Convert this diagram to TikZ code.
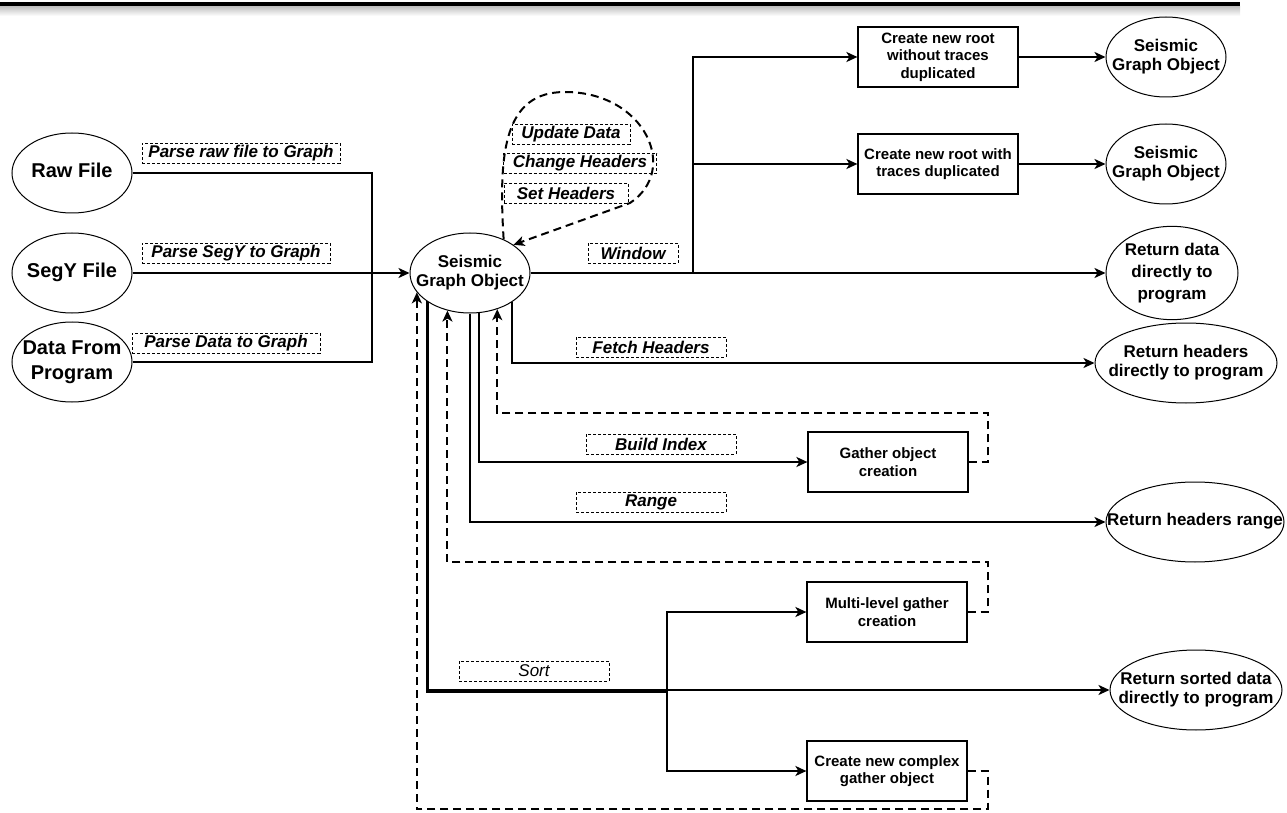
\documentclass[tikz,border=0pt]{standalone}
\usepackage{fontspec}
\setmainfont{Liberation Sans}
\usepackage{tikz}
\usetikzlibrary{arrows.meta, positioning, shapes.geometric}
\newcommand{\ovaltext}[1]{\makebox[0pt]{\begin{tabular}{@{}c@{}}#1\end{tabular}}}

\begin{document}
\begin{tikzpicture}[
  x=0.5pt, y=-0.5pt,
  every node/.style={align=center},
  oval/.style={draw, ellipse, inner sep=0pt, line width=0.5pt,
               minimum width=60pt, minimum height=40pt,
               font=\fontsize{8.5}{9.7}\selectfont\bfseries},
  srcoval/.style={oval, font=\fontsize{10}{12.5}\selectfont\bfseries},
  opbox/.style={draw, rectangle, line width=0.6pt, minimum width=80pt,
                minimum height=30pt, inner sep=1pt,
                font=\fontsize{7.5}{8.8}\selectfont\bfseries},
  optag/.style={draw, dash pattern=on 1.5pt off 1pt, line width=0.4pt,
                minimum height=10pt, inner sep=0pt,
                font=\fontsize{8.5}{10}\selectfont\bfseries\itshape},
  conn/.style={line width=1pt},
  arr/.style={conn, -{Stealth[length=5.5pt, width=5pt, inset=1.5pt]}},
  back/.style={arr, dash pattern=on 4pt off 2.5pt}
]
\useasboundingbox (0,0) rectangle (1287,813);

% page rule
\fill[black] (0,2) rectangle (1240,7);
\shade[top color=gray!45, bottom color=white] (0,7) rectangle (1240,16);

% Inputs
\node[srcoval] (raw) at (72,173) {\ovaltext{Raw File}};
\node[srcoval] (segy) at (72,273) {\ovaltext{SegY File}};
\node[srcoval] (dfp) at (72,362) {\ovaltext{Data From\\Program}};

% Core object
\node[oval] (seis) at (470,273) {\ovaltext{Seismic\\Graph Object}};

% Outputs
\node[opbox] (rootnew) at (938,57) {Create new root\\without traces\\duplicated};
\node[opbox] (rootdup) at (938,164) {Create new root with\\traces duplicated};
\node[oval] (sgoA) at (1166,57) {\ovaltext{Seismic\\Graph Object}};
\node[oval] (sgoB) at (1166,164) {\ovaltext{Seismic\\Graph Object}};
\node[oval, minimum width=66pt, font=\fontsize{8.5}{11}\selectfont\bfseries] (retdata) at (1172,273) {\ovaltext{Return data\\directly to\\program}};
\node[oval, minimum width=91pt] (rethdr) at (1186,363) {\ovaltext{Return headers\\directly to program}};
\node[opbox] (gather) at (888,462) {Gather object\\creation};
\node[oval, minimum width=89pt] (retrange) at (1195,522) {\ovaltext{Return headers range}};
\node[opbox] (multigather) at (887,612) {Multi-level gather\\creation};
\node[oval, minimum width=86pt] (retsort) at (1196,690) {\ovaltext{Return sorted data\\directly to program}};
\node[opbox] (complexgather) at (887,771) {Create new complex\\gather object};

% Operation tags
\node[optag, minimum width=99pt] (prsraw) at (241,153) {Parse raw file to Graph};
\node[optag, minimum width=94pt] (prssegy) at (236,253) {Parse SegY to Graph};
\node[optag, minimum width=94pt] (prsdata) at (226,343) {Parse Data to Graph};
\node[optag, minimum width=59pt] (upd) at (571,134) {Update Data};
\node[optag, minimum width=76.5pt] (chg) at (580,163) {Change Headers};
\node[optag, minimum width=62pt] (seth) at (566,193) {Set Headers};
\node[optag, minimum width=45pt] (win) at (633,253) {Window};
\node[optag, minimum width=75pt] (fetch) at (651,347) {Fetch Headers};
\node[optag, minimum width=75pt] (bidx) at (661,444) {Build Index};
\node[optag, minimum width=75pt] (rng) at (651,502) {Range};
\node[optag, minimum width=75pt, font=\fontsize{8.5}{10}\selectfont\itshape] (srt) at (534,671) {Sort};

% Junctions
\coordinate (merge) at (372,273);
\coordinate (winj) at (693,273);
\coordinate (sortj) at (667,691.5);

% Edges: inputs -> core
\draw[conn] (raw.east) -| (merge);
\draw[conn] (dfp.east) -| (merge);
\draw[arr] (segy) -- (seis);

% Edges: window
\draw[arr] (seis) -- (retdata);
\draw[conn, line width=1.4pt] (seis) -- (winj);
\draw[arr] (winj) |- (rootnew);
\draw[arr] (winj) |- (rootdup);
\draw[arr] (rootnew) -- (sgoA);
\draw[arr] (rootdup) -- (sgoB);

% Edges: headers, index, range
\draw[arr] (seis.-35) |- (rethdr);
\draw[arr] (seis.-77) |- (gather);
\draw[arr] (seis.south) |- (retrange);

% Edges: sort
\draw[arr] (seis.-145) |- (retsort);
\draw[conn] (seis.-147) |- (sortj);
\draw[arr] (sortj) |- (multigather);
\draw[arr] (sortj) |- (complexgather);

% Edges: back to core
\draw[back] (seis.45) .. controls (498,150) and (505,92) .. (565,92)
  .. controls (645,92) and (680,170) .. (630,203) -- (seis.33);
\draw[back] (gather.east) -- (988,462) -- (988,413) -| (seis.-53);
\draw[back] (multigather.east) -- (988,612) -- (988,562) -| (seis.-121);
\draw[back] (complexgather.east) -- (988,771) -- (988,809) -| (seis.-160);

\end{tikzpicture}
\end{document}
